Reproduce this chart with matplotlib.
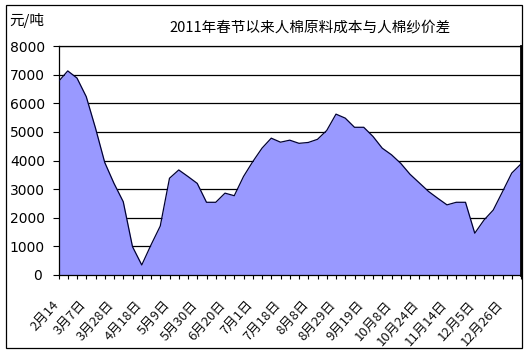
import matplotlib
matplotlib.use("Agg")
import matplotlib.pyplot as plt
from matplotlib.patches import Rectangle
from matplotlib.transforms import ScaledTranslation

plt.rcParams['font.family'] = ['Noto Sans CJK SC', 'DejaVu Sans']

title = "2011年春节以来人棉原料成本与人棉纱价差"
unit_label = "元/吨"

tick_labels = ["2月14", "3月7日", "3月28日", "4月18日", "5月9日", "5月30日",
               "6月20日", "7月1日", "7月18日", "8月8日", "8月29日", "9月19日",
               "10月8日", "10月24日", "11月14日", "12月5日", "12月26日"]

price_gap = [6760, 7130, 6880, 6230, 5130, 3930, 3200, 2560, 990, 350,
             1050, 1710, 3380, 3670, 3440, 3200, 2540, 2540, 2860, 2770,
             3440, 3960, 4430, 4780, 4640, 4710, 4600, 4630, 4740, 5050,
             5620, 5480, 5160, 5160, 4840, 4430, 4200, 3900, 3520, 3220,
             2920, 2680, 2450, 2540, 2540, 1460, 1920, 2270, 2910, 3560,
             3880]

y_ticks = [0, 1000, 2000, 3000, 4000, 5000, 6000, 7000, 8000]

W, H = 530, 356
fig = plt.figure(figsize=(W / 100, H / 100), dpi=100)
fig.patch.set_facecolor("white")

# outer chart frame
fig.add_artist(Rectangle((6 / W, 1 - 348 / H), (521.5 - 6) / W, (348 - 5) / H,
                         transform=fig.transFigure, fill=False,
                         edgecolor="black", linewidth=0.9))

left, right, top, bottom = 58.5, 521.0, 46.0, 275.0
ax = fig.add_axes([left / W, 1 - bottom / H, (right - left) / W, (bottom - top) / H])

x = list(range(len(price_gap)))
ax.fill_between(x, 0, price_gap, color="#9999FF", linewidth=0, zorder=2)
ax.plot(x, price_gap, color="#000033", linewidth=0.9, zorder=3)

ax.set_xlim(0, len(price_gap) - 1)
ax.set_ylim(0, 8000)

ax.set_yticks(y_ticks)
ax.set_yticklabels([str(v) for v in y_ticks], family="DejaVu Sans", fontsize=10)
ax.yaxis.grid(True, color="black", linewidth=0.9, zorder=1)
ax.set_axisbelow(True)
ax.tick_params(axis="y", direction="out", length=4, width=0.8, pad=31)
for lab in ax.get_yticklabels():
    lab.set_horizontalalignment("left")
ylabs = ax.get_yticklabels()
ylabs[0].set_transform(ylabs[0].get_transform() + ScaledTranslation(23 / 100, 0, fig.dpi_scale_trans))

major = list(range(0, 3 * len(tick_labels), 3))
ax.set_xticks(major)
ax.set_xticks(x, minor=True)
ax.set_xticklabels(tick_labels, rotation=48, ha="right", va="center",
                   rotation_mode="anchor", fontsize=9.5, color="#111111")
ax.tick_params(axis="x", which="both", direction="out", length=3, width=0.8, pad=17)
for lab in ax.get_xticklabels():
    lab.set_transform(lab.get_transform() + ScaledTranslation(-2 / 100, 0, fig.dpi_scale_trans))

for s in ["left", "top", "bottom"]:
    ax.spines[s].set_linewidth(0.9)
    ax.spines[s].set_color("black")
ax.spines["right"].set_linewidth(2)
ax.spines["right"].set_color("black")

fig.text(310 / W, 1 - 28 / H, title, ha="center", va="center", fontsize=10.5)
fig.text(9 / W, 1 - 21 / H, unit_label, ha="left", va="center", fontsize=10.5)

fig.savefig("out.png", dpi=100, facecolor="white")
